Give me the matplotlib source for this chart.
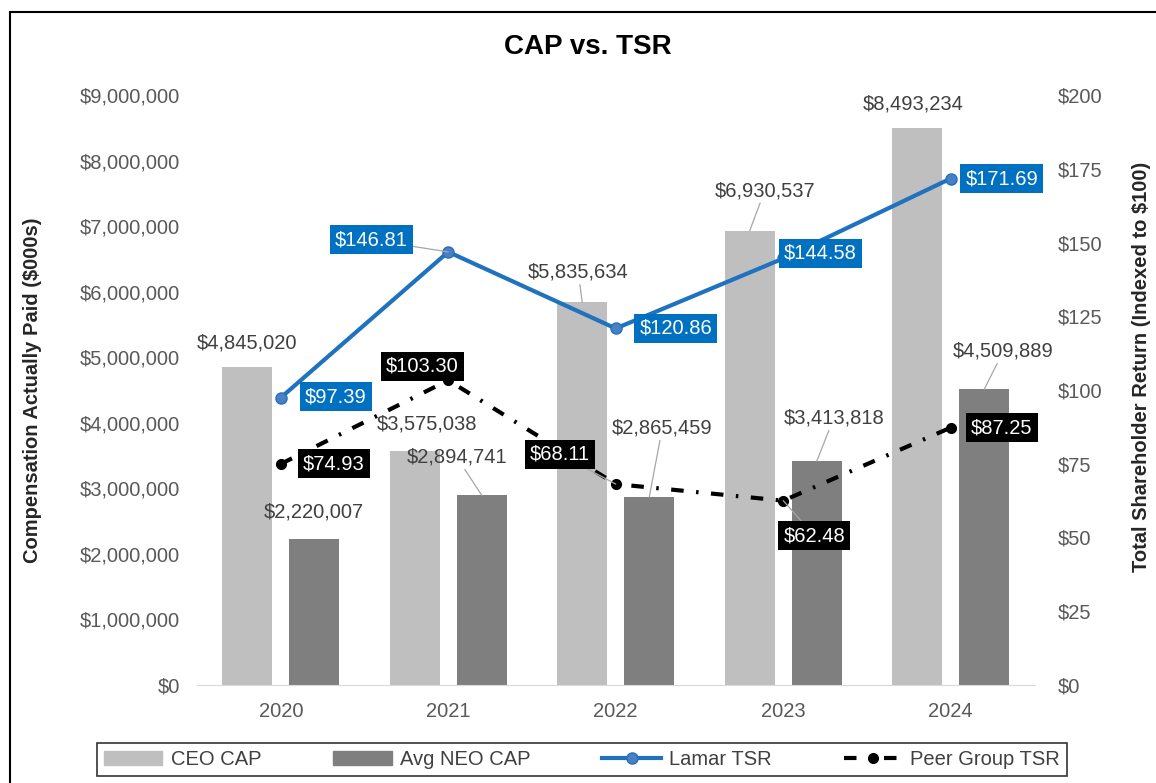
import matplotlib.pyplot as plt
from matplotlib.patches import Rectangle, Patch
from matplotlib.lines import Line2D
import numpy as np

plt.rcParams['font.family'] = ['Liberation Sans', 'DejaVu Sans']

years = ['2020', '2021', '2022', '2023', '2024']
ceo_cap = [4845020, 3575038, 5835634, 6930537, 8493234]
neo_cap = [2220007, 2894741, 2865459, 3413818, 4509889]
lamar_tsr = [97.39, 146.81, 120.86, 144.58, 171.69]
peer_tsr = [74.93, 103.30, 68.11, 62.48, 87.25]

cap_ticks = np.arange(0, 9000001, 1000000)
tsr_ticks = np.arange(0, 201, 25)

# label placement (pixel offsets from the mark) and leader-line flags
ceo_off = [(0, 24), (12, 27), (-4, 30), (15, 40), (-4, 24)]
ceo_lead = [False, False, True, True, False]
neo_off = [(0, 27), (-25, 38), (13, 69), (17, 43), (19, 38)]
neo_lead = [False, True, True, True, True]
lamar_off = [(55, 1), (-77, 12), (60, 0), (37, 5), (51, 0)]
lamar_lead = [False, True, False, False, False]
peer_off = [(53, 0), (-26, 14), (-56, 30), (31, -35), (51, 0)]
peer_lead = [False, False, True, True, False]

c_ceo = '#BFBFBF'
c_neo = '#7F7F7F'
c_blue = '#1F72BE'
c_box = '#0070C0'
c_tick = '#595959'
c_lab = '#404040'
fs = 14.5

fig = plt.figure(figsize=(11.56, 7.83), dpi=100)
ax = fig.add_axes([197 / 1156, 1 - 685 / 783, 837.5 / 1156, 590 / 783])
ax2 = ax.twinx()

x = np.arange(len(years))
w = 0.30
ax.bar(x - 0.20, ceo_cap, w, color=c_ceo, zorder=2)
ax.bar(x + 0.20, neo_cap, w, color=c_neo, zorder=2)
ax.set_xlim(-0.5, 4.5)
ax.set_ylim(0, 9000000)
ax.set_yticks(cap_ticks)
ax.set_yticklabels(['${:,.0f}'.format(v) for v in cap_ticks])
ax.set_xticks(x)
ax.set_xticklabels(years)
ax.tick_params(axis='both', length=0, labelsize=fs, colors=c_tick)
ax.tick_params(axis='y', pad=12)
ax.tick_params(axis='x', pad=12)
for s in ['top', 'left', 'right']:
    ax.spines[s].set_visible(False)
ax.spines['bottom'].set_color('#D9D9D9')

ax2.set_ylim(0, 200)
ax2.set_yticks(tsr_ticks)
ax2.set_yticklabels(['${:.0f}'.format(v) for v in tsr_ticks])
ax2.tick_params(axis='y', length=0, labelsize=fs, colors=c_tick, pad=17)
for s in ax2.spines.values():
    s.set_visible(False)

ax2.plot(x, lamar_tsr, color=c_blue, lw=3, marker='o', ms=8,
         mfc='#4A7FC4', mec=c_blue, zorder=4)
ax2.plot(x, peer_tsr, color='black', lw=3, marker='o', ms=7,
         dashes=(3, 3, 0.6, 3), zorder=4)

lead = dict(arrowstyle='-', color='#A6A6A6', lw=0.9, shrinkA=0, shrinkB=0)

for i in range(len(years)):
    ax.annotate('${:,.0f}'.format(ceo_cap[i]), (x[i] - 0.20, ceo_cap[i]),
                xytext=ceo_off[i], textcoords='offset pixels',
                ha='center', va='center', fontsize=fs, color=c_lab,
                arrowprops=lead if ceo_lead[i] else None, zorder=5)
    ax.annotate('${:,.0f}'.format(neo_cap[i]), (x[i] + 0.20, neo_cap[i]),
                xytext=neo_off[i], textcoords='offset pixels',
                ha='center', va='center', fontsize=fs, color=c_lab,
                arrowprops=lead if neo_lead[i] else None, zorder=5)
    ax2.annotate('${:.2f}'.format(lamar_tsr[i]), (x[i], lamar_tsr[i]),
                 xytext=lamar_off[i], textcoords='offset pixels',
                 ha='center', va='center', fontsize=fs, color='white',
                 bbox=dict(boxstyle='square,pad=0.25', fc=c_box, ec='none'),
                 arrowprops=lead if lamar_lead[i] else None, zorder=6)
    ax2.annotate('${:.2f}'.format(peer_tsr[i]), (x[i], peer_tsr[i]),
                 xytext=peer_off[i], textcoords='offset pixels',
                 ha='center', va='center', fontsize=fs, color='white',
                 bbox=dict(boxstyle='square,pad=0.25', fc='black', ec='none'),
                 arrowprops=lead if peer_lead[i] else None, zorder=6)

ax.set_ylabel('Compensation Actually Paid ($000s)', fontsize=fs,
              fontweight='bold', color='#262626')
ax.yaxis.set_label_coords(-0.185, 0.5)
ax2.set_ylabel('Total Shareholder Return (Indexed to $100)', fontsize=fs,
               fontweight='bold', color='#262626', rotation=90)
ax2.yaxis.set_label_coords(1.116, 0.54)

fig.text(588 / 1156, 1 - 47 / 783, 'CAP vs. TSR', fontsize=20,
         fontweight='bold', ha='center', va='center')

handles = [
    Patch(color=c_ceo, label='CEO CAP'),
    Patch(color=c_neo, label='Avg NEO CAP'),
    Line2D([], [], color=c_blue, lw=3, marker='o', ms=8, mfc='#4A7FC4',
           mec=c_blue, label='Lamar TSR'),
    Line2D([], [], color='black', lw=3, marker='o', ms=7,
           dashes=(3, 3, 0.6, 3), label='Peer Group TSR'),
]
leg = fig.legend(handles=handles, loc='lower left', ncol=4, mode='expand',
                 bbox_to_anchor=(97 / 1156, 1 - 776 / 783, 970 / 1156, 38 / 783),
                 fontsize=fs, frameon=True, fancybox=False,
                 handlelength=2.9, borderpad=0.35, borderaxespad=0,
                 handletextpad=0.4)
leg.get_frame().set_edgecolor('black')
leg.get_frame().set_linewidth(1.2)
for t in leg.get_texts():
    t.set_color(c_lab)

fig.patches.append(Rectangle((10 / 1156, -0.5), 2, 0.5 + 1 - 12 / 783,
                             transform=fig.transFigure, fill=False,
                             ec='black', lw=1.5))

fig.savefig('out.png', dpi=100)
